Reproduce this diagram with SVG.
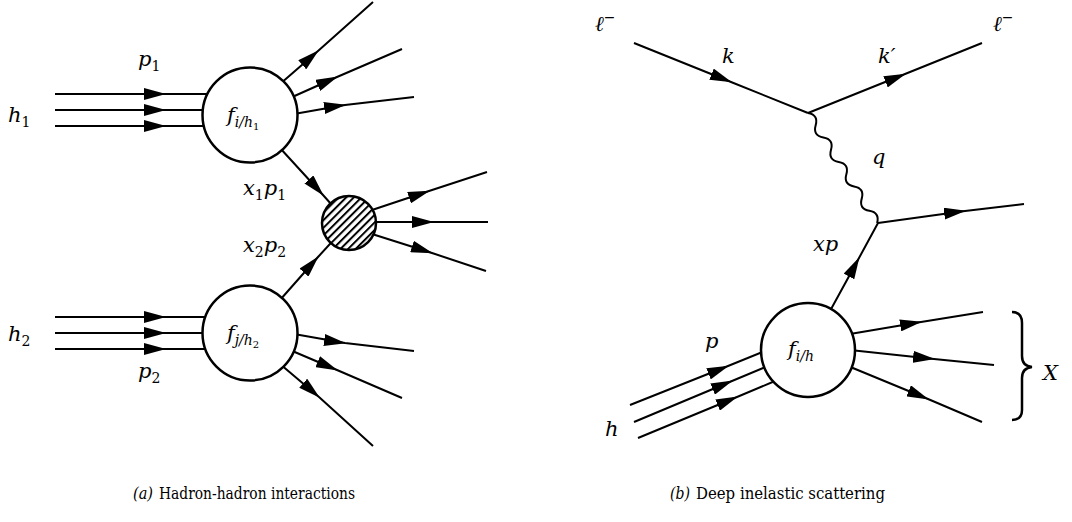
<svg xmlns="http://www.w3.org/2000/svg" width="1072" height="522" viewBox="0 0 1072 522">
<style>
.ln{stroke:#000;stroke-width:2;fill:none;marker-mid:url(#ah)}
.pl{stroke:#000;stroke-width:2;fill:none}
.nd{stroke:#000;stroke-width:2.5;fill:#fff}
text{font-family:'DejaVu Serif',serif;fill:#000}
.m{font-style:italic;font-size:21px}
.s{font-size:14px}
.u{font-style:normal}
.ss{font-size:10px;font-style:normal}
.cap{font-size:17px}
.capi{font-size:17px;font-style:italic}
</style>
<defs>
<marker id="ah" markerUnits="userSpaceOnUse" viewBox="0 0 22 12" markerWidth="22" markerHeight="12" refX="21" refY="6" orient="auto">
<path d="M0,0 L22,6 L0,12 Z" fill="#000"/>
</marker>
<pattern id="hatch" patternUnits="userSpaceOnUse" width="5.4" height="5.4" patternTransform="rotate(45)">
<rect width="5.4" height="5.4" fill="#fff"/>
<line x1="1" y1="0" x2="1" y2="5.4" stroke="#000" stroke-width="2"/>
</pattern>
</defs>
<g id="connectors">
<path class="ln" d="M55,94 L165,94 L250,94"/>
<path class="ln" d="M55,110 L165,110 L250,110"/>
<path class="ln" d="M55,126 L165,126 L250,126"/>
<path class="ln" d="M55,317 L165,317 L250,317"/>
<path class="ln" d="M55,333 L165,333 L250,333"/>
<path class="ln" d="M55,349 L165,349 L250,349"/>
<path class="ln" d="M280,84 L318,51 L373,2"/>
<path class="ln" d="M290,98 L337,77 L402,49"/>
<path class="ln" d="M294,114 L345,105 L414,97"/>
<path class="ln" d="M294,334 L345,343 L414,351"/>
<path class="ln" d="M290,350 L337,370 L402,398"/>
<path class="ln" d="M280,364 L319,397 L373,446"/>
<path class="ln" d="M280,148 L323,195 L340,214"/>
<path class="ln" d="M280,300 L318,257 L340,233"/>
<path class="ln" d="M372,210 L429,191 L487,172"/>
<path class="ln" d="M374,222 L433,222 L488,222"/>
<path class="ln" d="M372,234 L432,253 L486,271"/>
<path class="ln" d="M634,43 L731,82 L808,113"/>
<path class="ln" d="M808,113 L905,74 L982,43"/>
<g transform="translate(808,113) rotate(57.9)">
<path class="pl" d="M0,0 q7.22,-8 14.44,0 t14.44,0 t14.44,0 t14.44,0 t14.44,0 t14.44,0 t14.44,0 t14.44,0 t14.44,0"/>
</g>
<path class="ln" d="M830,311 L859,258 L878,223"/>
<path class="ln" d="M878,223 L965,211 L1024,204"/>
<path class="ln" d="M630,405 L728,366 L765,351"/>
<path class="ln" d="M634,422 L732,381 L768,366"/>
<path class="ln" d="M638,438 L737,397 L775,381"/>
<path class="ln" d="M850,334 L921,322 L983,312"/>
<path class="ln" d="M850,350 L934,359 L994,365"/>
<path class="ln" d="M848,366 L928,399 L982,422"/>
<path d="M1012,312 Q1022,312 1022,323 L1022,356 Q1022,366 1032,367 Q1022,368 1022,378 L1022,410 Q1022,420 1012,420" stroke="#000" stroke-width="2.5" fill="none"/>
</g>
<g id="node-f1">
<circle class="nd" cx="250" cy="115" r="47.5"/>
<text class="m" x="227" y="122">f<tspan class="s" dy="5">i/h</tspan><tspan class="ss" dy="3">1</tspan></text>
</g>
<g id="node-f2">
<circle class="nd" cx="250" cy="333" r="47.5"/>
<text class="m" x="227" y="340">f<tspan class="s" dy="5">j/h</tspan><tspan class="ss" dy="3">2</tspan></text>
</g>
<g id="node-hard">
<circle cx="349" cy="223" r="27" fill="url(#hatch)" stroke="#000" stroke-width="2.5"/>
</g>
<g id="node-fh">
<circle class="nd" cx="808" cy="350" r="47"/>
<text class="m" x="788" y="356">f<tspan class="s" dy="5">i/h</tspan></text>
</g>
<g id="labels">
<text class="m" x="138" y="66">p<tspan class="s u" dy="5">1</tspan></text>
<text class="m" x="8" y="122">h<tspan class="s u" dy="5">1</tspan></text>
<text class="m" x="243" y="195">x<tspan class="s u" dy="5">1</tspan><tspan dy="-5">p</tspan><tspan class="s u" dy="5">1</tspan></text>
<text class="m" x="243" y="252">x<tspan class="s u" dy="5">2</tspan><tspan dy="-5">p</tspan><tspan class="s u" dy="5">2</tspan></text>
<text class="m" x="8" y="341">h<tspan class="s u" dy="5">2</tspan></text>
<text class="m" x="138" y="378">p<tspan class="s u" dy="5">2</tspan></text>
<text class="m" x="595" y="31">ℓ<tspan class="s u" dy="-9">−</tspan></text>
<text class="m" x="722" y="63">k</text>
<text class="m" x="878" y="63">k′</text>
<text class="m" x="993" y="31">ℓ<tspan class="s u" dy="-9">−</tspan></text>
<text class="m" x="872" y="164">q</text>
<text class="m" x="813" y="251">xp</text>
<text class="m" x="705" y="348">p</text>
<text class="m" x="605" y="436">h</text>
<text class="m" x="1043" y="380">X</text>
</g>
<g id="captions">
<text class="capi" x="133" y="499" textLength="20" lengthAdjust="spacingAndGlyphs">(a)</text>
<text class="cap" x="159" y="499" textLength="196" lengthAdjust="spacingAndGlyphs">Hadron-hadron interactions</text>
<text class="capi" x="670" y="499" textLength="20" lengthAdjust="spacingAndGlyphs">(b)</text>
<text class="cap" x="696" y="499" textLength="189" lengthAdjust="spacingAndGlyphs">Deep inelastic scattering</text>
</g>
</svg>
